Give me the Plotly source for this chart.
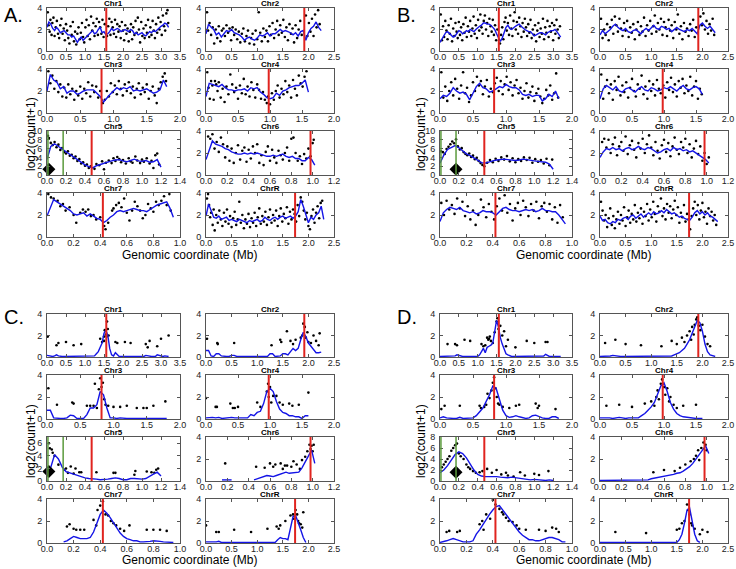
import plotly.graph_objects as go

# ---------------- data ----------------
CHROMS = ["Chr1", "Chr2", "Chr3", "Chr4", "Chr5", "Chr6", "Chr7", "ChrR"]
XMAX = [3.5, 2.5, 2.0, 2.0, 1.4, 1.2, 1.0, 2.5]
XDTICK = [0.5, 0.5, 0.5, 0.5, 0.2, 0.2, 0.2, 0.5]
CENTROMERE = [1.56, 1.92, 0.82, 0.98, 0.47, 0.98, 0.42, 1.74]
PANELS = ["A", "B", "C", "D"]
CHR5_YMAX = [10, 10, 7, 8]
GREEN_CHR5 = [0.01, 0.17]
DIAMOND_X = [0.02, 0.17, 0.02, 0.17]
DIAMOND_Y = [1.3, 1.3, 1.5, 1.6]

X_CHR1 = [0.0, 0.05, 0.1, 0.15, 0.2, 0.25, 0.3, 0.35, 0.4, 0.45,
          0.5, 0.55, 0.6, 0.65, 0.7, 0.75, 0.8, 0.85, 0.9, 0.95,
          1.0, 1.05, 1.1, 1.15, 1.2, 1.25, 1.3, 1.35, 1.4, 1.45,
          1.5, 1.55, 1.6, 1.65, 1.7, 1.75, 1.8, 1.85, 1.9, 1.95,
          2.0, 2.05, 2.1, 2.15, 2.2, 2.25, 2.3, 2.35, 2.4, 2.45,
          2.5, 2.55, 2.6, 2.65, 2.7, 2.75, 2.8, 2.85, 2.9, 2.95,
          3.0, 3.05, 3.1, 3.15, 3.2]
X_CHR2 = X_CHR1[:46]
X_CHR3 = X_CHR1[:37]
X_CHR4 = X_CHR1[:33]
X_CHRR = X_CHR1[:47]
X_CHR5 = [0.0, 0.04, 0.08, 0.12, 0.16, 0.2, 0.24, 0.28, 0.32, 0.36,
          0.4, 0.44, 0.48, 0.52, 0.56, 0.6, 0.64, 0.68, 0.72, 0.76,
          0.8, 0.84, 0.88, 0.92, 0.96, 1.0, 1.04, 1.08, 1.12, 1.16,
          1.2]
X_CHR6 = [0.0, 0.03, 0.06, 0.09, 0.12, 0.15, 0.18, 0.21, 0.24, 0.27,
          0.3, 0.33, 0.36, 0.39, 0.42, 0.45, 0.48, 0.51, 0.54, 0.57,
          0.6, 0.63, 0.66, 0.69, 0.72, 0.75, 0.78, 0.81, 0.84, 0.87,
          0.9, 0.93, 0.96, 0.99, 1.02]
X_CHR7 = [0.0, 0.025, 0.05, 0.075, 0.1, 0.125, 0.15, 0.175, 0.2, 0.225,
          0.25, 0.275, 0.3, 0.325, 0.35, 0.375, 0.4, 0.425, 0.45, 0.475,
          0.5, 0.525, 0.55, 0.575, 0.6, 0.625, 0.65, 0.675, 0.7, 0.725,
          0.75, 0.775, 0.8, 0.825, 0.85, 0.875, 0.9, 0.925, 0.95]

# smoothed (blue) lines
LINE_A_CHR1 = [2.2, 2.7, 2.5, 2.1, 1.9, 2.2, 2.0, 1.7, 1.8, 1.9,
               1.7, 1.5, 1.5, 1.3, 1.4, 1.1, 0.8, 1.1, 1.3, 1.0,
               1.2, 1.4, 1.6, 1.8, 1.9, 1.6, 1.7, 2.0, 2.2, 1.7,
               1.8, 1.5, 1.6, 1.8, 2.1, 1.9, 2.0, 2.1, 2.0, 1.8,
               1.9, 2.0, 1.9, 1.8, 2.0, 1.9, 1.6, 1.7, 1.5, 1.6,
               1.7, 1.5, 1.4, 1.6, 1.8, 1.7, 1.9, 1.8, 2.0, 2.2,
               2.3, 2.4, 2.6, 2.5, 2.2]
LINE_B_CHR1 = [0.8, 1.1, 1.4, 1.7, 1.8, 1.6, 1.5, 1.3, 1.4, 1.6,
               1.9, 1.8, 1.6, 1.7, 1.9, 1.8, 2.0, 1.9, 1.8, 2.0,
               2.2, 2.3, 2.4, 2.6, 2.6, 2.5, 2.5, 2.4, 2.2, 2.0,
               1.6, 1.3, 0.9, 1.2, 1.8, 2.2, 2.4, 2.1, 2.0, 2.2,
               2.3, 2.4, 2.5, 2.3, 2.1, 2.0, 1.9, 1.8, 1.8, 1.6,
               1.4, 1.5, 1.6, 1.7, 1.7, 1.6, 1.5, 1.7, 1.8, 1.9,
               1.9, 2.0, 1.8, 1.6, 1.3]
LINE_C_CHR1 = [0.15, 0.1, 0.05, 0.05, 0.1, 0.2, 0.1, 0.05, 0.05, 0.05,
               0.05, 0.05, 0.05, 0.1, 0.05, 0.05, 0.05, 0.05, 0.05, 0.1,
               0.05, 0.05, 0.05, 0.05, 0.05, 0.1, 0.3, 0.5, 0.9, 1.3,
               2.2, 2.5, 2.0, 0.8, 0.2, 0.1, 0.4, 0.2, 0.05, 0.05,
               0.05, 0.05, 0.05, 0.05, 0.05, 0.05, 0.05, 0.05, 0.05, 0.05,
               0.05, 0.05, 0.15, 0.1, 0.05, 0.05, 0.05, 0.05, 0.2, 0.15,
               0.05, 0.05, 0.1, 0.05, 0.05]
LINE_D_CHR1 = [0.05, 0.05, 0.05, 0.05, 0.05, 0.1, 0.05, 0.05, 0.1, 0.2,
               0.15, 0.05, 0.05, 0.05, 0.05, 0.05, 0.05, 0.05, 0.05, 0.05,
               0.05, 0.2, 0.5, 0.8, 0.4, 0.9, 1.0, 1.1, 1.3, 2.2,
               3.4, 2.8, 1.8, 1.2, 0.8, 0.3, 0.2, 0.1, 0.05, 0.05,
               0.05, 0.05, 0.05, 0.05, 0.05, 0.05, 0.05, 0.05, 0.05, 0.05,
               0.05, 0.05, 0.05, 0.05, 0.05, 0.1, 0.25, 0.15, 0.05, 0.05,
               0.05, 0.05, 0.05, 0.05, 0.05]

LINE_A_CHR2 = [1.6, 2.5, 2.2, 2.0, 1.5, 1.7, 1.3, 1.6, 1.9, 1.8,
               2.0, 1.7, 1.6, 1.5, 1.3, 1.0, 1.2, 1.3, 1.1, 1.0,
               1.2, 1.5, 1.4, 1.5, 1.7, 1.4, 1.6, 1.6, 1.8, 2.0,
               1.8, 1.9, 1.8, 1.7, 1.5, 1.7, 1.4, 1.8, 1.9, 1.0,
               1.7, 2.1, 2.3, 2.7, 2.2, 1.9]
LINE_B_CHR2 = [1.5, 1.9, 1.6, 1.8, 2.0, 2.3, 2.5, 2.2, 2.0, 1.9,
               2.1, 1.8, 1.7, 1.9, 2.0, 1.8, 1.6, 1.9, 2.1, 1.9,
               2.2, 2.4, 2.1, 2.0, 2.3, 2.2, 2.0, 2.1, 1.8, 2.0,
               2.2, 2.0, 1.9, 1.8, 2.0, 1.9, 2.1, 1.8, 1.6, 2.4,
               2.6, 2.3, 2.1, 2.3, 2.0, 1.7]
LINE_C_CHR2 = [0.6, 0.6, 0.1, 0.05, 0.3, 0.3, 0.1, 0.05, 0.05, 0.05,
               0.15, 0.15, 0.05, 0.05, 0.05, 0.05, 0.05, 0.05, 0.05, 0.05,
               0.05, 0.05, 0.05, 0.05, 0.05, 0.3, 0.3, 0.05, 0.05, 0.1,
               0.3, 0.3, 0.2, 0.5, 0.8, 0.6, 0.8, 1.6, 2.3, 1.9,
               1.3, 1.0, 0.7, 0.4, 0.4, 0.45]
LINE_D_CHR2 = [0.05, 0.05, 0.05, 0.05, 0.1, 0.15, 0.1, 0.05, 0.05, 0.05,
               0.05, 0.1, 0.05, 0.05, 0.05, 0.05, 0.05, 0.05, 0.05, 0.05,
               0.05, 0.05, 0.05, 0.05, 0.05, 0.05, 0.05, 0.1, 0.1, 0.2,
               0.3, 0.4, 0.6, 0.8, 1.2, 1.6, 2.2, 2.8, 3.4, 3.2,
               2.4, 1.2, 0.5, 0.2, 0.1, 0.05]

LINE_A_CHR3 = [2.0, 3.5, 3.0, 2.8, 2.2, 2.4, 1.8, 2.0, 2.0, 1.7,
               1.8, 2.0, 2.1, 2.1, 2.1, 1.8, 1.5, 1.0, 1.4, 1.7,
               2.0, 2.3, 2.1, 2.3, 2.2, 2.4, 2.0, 2.1, 2.0, 2.1,
               2.2, 2.0, 1.8, 1.9, 2.1, 3.0, 2.4]
LINE_B_CHR3 = [1.3, 1.6, 1.5, 1.8, 2.3, 2.0, 1.8, 1.9, 1.7, 1.2,
               1.8, 2.4, 2.7, 2.3, 2.2, 1.9, 2.0, 2.2, 2.4, 2.3,
               2.6, 2.4, 2.3, 2.3, 2.1, 1.7, 1.6, 1.7, 1.5, 1.6,
               1.6, 1.1, 1.3, 1.7, 1.5, 2.0, 1.3]
LINE_C_CHR3 = [0.8, 0.8, 0.1, 0.05, 0.05, 0.05, 0.1, 0.35, 0.3, 0.05,
               0.05, 0.05, 0.4, 1.0, 1.0, 1.3, 2.5, 2.2, 1.0, 0.1,
               0.1, 0.05, 0.1, 0.05, 0.05, 0.05, 0.05, 0.05, 0.05, 0.1,
               0.05, 0.1, 0.05, 0.1, 0.1, 0.05, 0.05]
LINE_D_CHR3 = [0.1, 0.2, 0.1, 0.05, 0.05, 0.05, 0.15, 0.05, 0.05, 0.05,
               0.1, 0.3, 0.7, 1.0, 1.6, 2.2, 3.0, 2.8, 1.8, 0.8,
               0.3, 0.15, 0.2, 0.3, 0.2, 0.1, 0.05, 0.1, 0.3, 0.35,
               0.2, 0.1, 0.05, 0.05, 0.2, 0.2, 0.05]

LINE_A_CHR4 = [1.5, 2.7, 2.6, 2.5, 2.4, 2.6, 2.3, 2.1, 2.1, 2.0,
               2.1, 2.1, 2.2, 2.0, 2.3, 2.2, 2.3, 1.9, 1.7, 1.4,
               1.3, 1.4, 1.8, 1.6, 2.0, 2.1, 2.3, 2.4, 2.5, 2.5,
               2.7, 3.0, 1.9]
LINE_B_CHR4 = [1.3, 2.2, 2.5, 2.3, 2.1, 2.4, 2.0, 1.9, 2.2, 2.3,
               2.1, 1.9, 2.2, 2.4, 2.1, 2.0, 2.3, 2.2, 2.0, 2.1,
               2.3, 2.2, 2.4, 2.2, 2.0, 2.3, 2.5, 2.2, 2.1, 2.3,
               2.4, 2.2, 1.7]
LINE_C_CHR4 = [0.1, 0.15, 0.15, 0.1, 0.15, 0.05, 0.1, 0.15, 0.15, 0.1,
               0.1, 0.05, 0.1, 0.1, 0.4, 0.3, 0.6, 0.7, 1.4, 2.5,
               2.8, 2.5, 1.6, 0.9, 0.6, 0.5, 0.3, 0.3, 0.2, 0.2,
               0.05, 0.3, 0.3]
LINE_D_CHR4 = [0.1, 0.1, 0.15, 0.1, 0.05, 0.1, 0.15, 0.1, 0.05, 0.1,
               0.1, 0.05, 0.1, 0.3, 0.5, 0.8, 1.1, 1.5, 2.2, 3.0,
               3.3, 2.5, 1.5, 0.9, 0.5, 0.3, 0.2, 0.15, 0.1, 0.05,
               0.05, 0.05, 0.05]

LINE_A_CHR5 = [3.5, 6.5, 7.1, 6.5, 5.8, 5.2, 4.7, 4.0, 3.5, 3.0,
               2.3, 1.9, 1.6, 2.1, 2.4, 2.6, 2.9, 3.2, 3.4, 3.5,
               3.2, 3.0, 3.3, 3.6, 3.2, 3.1, 3.3, 2.9, 3.0, 3.5,
               1.8]
LINE_B_CHR5 = [2.7, 4.5, 5.8, 6.3, 6.7, 6.2, 5.4, 4.8, 4.4, 3.9,
               3.4, 2.8, 2.7, 3.0, 3.2, 3.4, 3.5, 3.6, 3.5, 3.4,
               3.3, 3.4, 3.6, 3.5, 3.3, 3.2, 3.1, 3.0, 2.9, 2.5,
               1.3]
LINE_C_CHR5 = [0.8, 2.2, 4.2, 3.5, 2.2, 1.5, 1.3, 1.1, 0.8, 0.6,
               0.5, 0.4, 0.4, 0.3, 0.2, 0.2, 0.3, 0.4, 0.5, 0.4,
               0.2, 0.2, 0.4, 0.4, 0.3, 0.3, 0.4, 0.8, 1.1, 1.4,
               0.8]
LINE_D_CHR5 = [1.5, 2.0, 2.8, 3.8, 4.8, 5.3, 5.0, 4.2, 3.0, 2.0,
               1.2, 0.9, 0.8, 0.8, 0.9, 0.8, 0.7, 0.6, 0.6, 0.7,
               0.6, 0.4, 0.3, 0.2, 0.2, 0.3, 0.2, 0.1, 0.1, 0.2,
               0.1]

LINE_A_CHR6 = [1.4, 2.2, 3.1, 2.8, 2.7, 2.6, 2.4, 2.3, 2.1, 2.0,
               1.9, 1.9, 2.0, 1.9, 2.0, 1.9, 2.0, 1.9, 1.8, 1.7,
               1.7, 1.8, 1.7, 1.8, 1.9, 1.7, 1.6, 1.7, 1.5, 1.5,
               1.3, 1.3, 1.6, 1.4, 0.9]
LINE_B_CHR6 = [1.6, 2.1, 2.4, 2.3, 2.5, 2.3, 2.4, 2.2, 2.4, 2.5,
               2.3, 2.4, 2.6, 2.4, 2.3, 2.5, 2.4, 2.2, 2.0, 2.1,
               2.3, 2.4, 2.2, 2.5, 2.3, 2.4, 2.2, 2.3, 2.1, 2.2,
               2.0, 1.8, 1.6, 1.4, 1.1]
LINE_C_CHR6 = [None, None, None, None, None, 0.1, 0.1, 0.1, 0.1, None,
               None, None, None, None, None, 0.1, 0.2, 0.3, 0.4, 0.5,
               0.45, 0.4, 0.5, 0.6, 0.7, 0.8, 0.7, 0.75, 0.8, 0.8,
               1.2, 1.7, 2.3, 2.8, 1.6]
LINE_D_CHR6 = [0.05, 0.05, 0.1, 0.1, 0.05, 0.05, 0.05, 0.05, 0.05, 0.05,
               0.05, 0.05, 0.05, 0.05, 0.05, 0.1, 0.2, 0.25, 0.3, 0.4,
               0.45, 0.5, 0.55, 0.6, 0.7, 0.75, 0.9, 1.1, 1.3, 1.6,
               2.0, 2.5, 2.9, 3.2, 2.5]

LINE_A_CHR7 = [1.9, 2.6, 3.4, 3.2, 3.0, 2.8, 2.6, 2.4, 2.1, 2.0,
               2.1, 2.2, 1.9, 2.1, 1.9, 1.7, 1.6, 1.3, 1.5, 1.8,
               2.0, 2.3, 2.4, 2.3, 2.4, 2.5, 2.6, 2.5, 2.4, 2.4,
               2.3, 2.5, 2.7, 2.9, 3.0, 3.1, 3.2, 2.6, 1.8]
LINE_B_CHR7 = [1.4, 2.2, 2.5, 2.7, 2.6, 2.5, 2.7, 2.4, 2.3, 2.2,
               2.3, 2.1, 2.2, 2.4, 2.3, 2.3, 2.2, 2.0, 2.3, 2.6,
               2.7, 2.5, 2.4, 2.4, 2.3, 2.4, 2.5, 2.4, 2.5, 2.3,
               2.4, 2.6, 2.4, 2.4, 2.3, 2.3, 2.0, 1.6, 1.2]
LINE_C_CHR7 = [None, None, None, None, None, 0.1, 0.2, 0.4, 0.6, 0.5,
               0.4, 0.4, 0.4, 0.5, 1.0, 1.8, 2.6, 3.0, 2.7, 2.3,
               1.8, 1.3, 0.9, 0.6, 0.4, 0.3, 0.2, 0.2, 0.1, 0.1,
               0.1, 0.15, 0.2, 0.2, 0.15, 0.1, 0.1, 0.05, 0.05]
LINE_D_CHR7 = [0.05, 0.1, 0.2, 0.3, 0.4, 0.3, 0.2, 0.1, 0.1, 0.1,
               0.2, 0.8, 1.2, 1.7, 2.2, 2.6, 3.0, 3.3, 3.4, 3.0,
               2.6, 2.1, 1.7, 1.3, 1.0, 0.7, 0.5, 0.3, 0.3, 0.2,
               0.2, 0.3, 0.4, 0.5, 0.5, 0.4, 0.3, 0.1, 0.1]

LINE_A_CHRR = [1.9, 3.0, 2.4, 1.8, 1.7, 1.9, 1.6, 1.7, 1.8, 1.5,
               1.6, 1.5, 1.4, 1.6, 1.5, 1.4, 1.3, 1.5, 1.4, 1.5,
               1.6, 1.4, 1.5, 1.8, 1.6, 1.5, 1.7, 1.8, 1.6, 1.8,
               1.9, 1.7, 1.8, 1.9, 1.7, 1.9, 2.3, 3.4, 2.8, 2.0,
               1.3, 1.8, 1.6, 2.0, 2.2, 2.8, 1.6]
LINE_B_CHRR = [1.9, 1.5, 1.6, 1.3, 1.2, 1.4, 1.3, 1.6, 1.5, 1.7,
               1.8, 1.6, 1.9, 2.0, 1.7, 1.9, 2.1, 1.8, 2.0, 2.2,
               2.0, 2.3, 2.1, 2.2, 2.4, 2.2, 2.5, 2.3, 2.1, 2.2,
               2.0, 1.8, 1.9, 1.7, 1.6, 1.5, 1.8, 2.2, 2.4, 2.1,
               2.3, 2.0, 2.2, 1.9, 1.8, 1.6, 1.4]
LINE_C_CHRR = [0.1, 0.1, 0.05, 0.05, 0.1, 0.15, 0.05, 0.05, 0.05, 0.05,
               0.05, 0.05, 0.05, 0.05, 0.05, 0.05, 0.05, 0.05, 0.05, 0.05,
               0.05, 0.05, 0.05, 0.05, 0.05, 0.05, 0.05, 0.05, 0.3, 0.5,
               0.4, 0.4, 0.3, 1.5, 2.4, 2.5, 1.9, 1.2, 0.5, 0.05,
               None, None, None, None, None, None, None]
LINE_D_CHRR = [0.05, 0.05, 0.05, 0.05, 0.05, 0.05, 0.05, 0.05, 0.05, 0.05,
               0.05, 0.05, 0.05, 0.05, 0.05, 0.05, 0.05, 0.05, 0.05, 0.05,
               0.05, 0.05, 0.05, 0.05, 0.05, 0.05, 0.05, 0.05, 0.05, 0.05,
               0.05, 0.3, 0.8, 1.8, 3.0, 3.2, 2.0, 0.8, 0.2, 0.05,
               None, None, None, None, None, None, None]

# raw per-bin values (black dots), (Mb, log2(count+1))
PTS_A_CHR1 = [(0.02,3.6),(0.04,2.4),(0.07,1.8),(0.09,2.9),(0.12,1.5),(0.14,2.6),(0.17,3.1),(0.2,1.4),(0.23,2.2),(0.26,2.8),
              (0.29,1.6),(0.32,1.2),(0.35,2.4),(0.38,3.0),(0.41,1.6),(0.44,2.1),(0.47,1.0),(0.5,2.5),(0.53,1.9),(0.56,1.2),
              (0.59,0.7),(0.62,2.3),(0.65,1.5),(0.68,2.7),(0.71,0.9),(0.74,1.8),(0.77,0.6),(0.8,1.6),(0.83,2.2),(0.86,1.1),
              (0.89,1.7),(0.92,2.6),(0.95,1.3),(0.98,0.8),(1.01,2.2),(1.04,2.9),(1.07,1.4),(1.1,2.4),(1.13,1.1),(1.16,3.2),
              (1.19,1.9),(1.22,2.6),(1.25,1.4),(1.28,2.3),(1.31,3.0),(1.34,1.5),(1.37,2.7),(1.4,2.2),(1.43,1.6),(1.46,2.9),
              (1.49,1.3),(1.52,2.5),(1.58,1.4),(1.61,2.3),(1.64,3.0),(1.67,1.5),(1.7,2.7),(1.73,2.2),(1.76,1.6),(1.79,2.9),
              (1.82,1.3),(1.85,2.5),(1.88,1.8),(1.91,2.3),(1.94,1.2),(1.97,2.7),(2.0,1.9),(2.03,1.0),(2.06,2.4),(2.09,1.6),
              (2.12,2.1),(2.15,0.9),(2.18,1.8),(2.21,2.5),(2.24,1.1),(2.27,2.2),(2.3,1.5),(2.33,2.8),(2.36,1.7),(2.39,3.1),
              (2.42,2.0),(2.45,0.8),(2.48,2.7),(2.51,1.4),(2.54,2.1),(2.57,1.2),(2.6,2.4),(2.63,1.7),(2.66,2.9),(2.69,1.3),
              (2.72,2.2),(2.75,1.5),(2.78,2.8),(2.81,1.9),(2.84,1.2),(2.87,2.5),(2.9,1.7),(2.93,3.1),(2.96,2.0),(2.99,2.7),
              (3.02,1.5),(3.05,3.3),(3.08,2.3),(3.11,1.9),(3.14,3.5),(3.17,3.8),(3.19,2.6)]
PTS_A_CHR2 = [(0.02,3.6),(0.04,1.9),(0.07,2.6),(0.1,1.5),(0.13,2.2),(0.16,0.7),(0.19,2.0),(0.22,1.2),(0.25,2.3),(0.28,0.9),
              (0.31,1.9),(0.34,2.1),(0.37,1.4),(0.4,2.4),(0.43,1.7),(0.46,2.1),(0.49,1.0),(0.52,2.2),(0.55,1.5),(0.58,2.0),
              (0.61,1.1),(0.64,1.8),(0.67,0.8),(0.7,1.6),(0.73,2.1),(0.76,0.9),(0.79,1.4),(0.82,1.9),(0.85,0.7),(0.88,1.2),
              (0.91,1.6),(0.94,0.6),(0.97,1.9),(1.0,1.1),(1.03,3.6),(1.06,1.7),(1.09,0.9),(1.12,2.1),(1.15,1.3),(1.18,1.9),
              (1.21,0.9),(1.24,2.3),(1.27,1.5),(1.3,2.6),(1.33,1.2),(1.36,2.0),(1.39,2.8),(1.42,1.5),(1.45,2.4),(1.48,1.7),
              (1.51,2.9),(1.54,1.3),(1.57,2.2),(1.6,1.0),(1.63,2.5),(1.66,1.6),(1.69,2.1),(1.72,0.8),(1.75,2.4),(1.78,1.2),
              (1.81,2.0),(1.84,2.8),(1.87,1.5),(1.95,3.3),(1.98,1.4),(2.01,2.6),(2.04,1.8),(2.07,3.0),(2.1,1.4),(2.13,3.4),
              (2.16,2.2),(2.19,3.8),(2.22,2.5)]
PTS_A_CHR3 = [(0.02,3.8),(0.05,2.7),(0.08,3.4),(0.11,2.2),(0.14,2.9),(0.17,1.9),(0.2,2.6),(0.23,1.5),(0.26,2.3),(0.29,1.4),
              (0.32,2.6),(0.35,1.7),(0.38,2.2),(0.41,1.2),(0.44,2.0),(0.47,1.6),(0.5,2.4),(0.53,1.3),(0.56,2.2),(0.59,1.8),
              (0.62,2.8),(0.65,1.5),(0.68,2.5),(0.71,1.9),(0.74,2.4),(0.77,1.4),(0.8,2.0),(0.84,0.9),(0.87,1.2),(0.9,2.0),
              (0.93,1.5),(0.96,2.7),(0.99,1.9),(1.02,2.5),(1.05,1.7),(1.08,2.9),(1.11,2.2),(1.14,1.6),(1.17,2.6),(1.2,2.0),
              (1.23,2.8),(1.26,1.8),(1.29,2.4),(1.32,1.4),(1.35,2.2),(1.38,2.7),(1.41,1.7),(1.44,2.3),(1.47,1.9),(1.5,2.6),
              (1.53,1.3),(1.56,2.0),(1.59,2.4),(1.62,1.6),(1.65,0.9),(1.68,2.2),(1.71,2.8),(1.74,3.3),(1.77,3.6),(1.79,2.9)]
PTS_A_CHR4 = [(0.02,3.7),(0.04,2.3),(0.06,1.3),(0.08,2.9),(0.1,2.5),(0.12,1.2),(0.14,2.9),(0.16,2.6),(0.18,2.0),(0.2,2.8),
              (0.23,1.4),(0.26,2.2),(0.29,1.0),(0.32,2.4),(0.35,1.7),(0.38,3.5),(0.41,2.6),(0.44,1.9),(0.47,2.3),(0.5,1.3),
              (0.53,2.5),(0.56,1.8),(0.59,3.1),(0.62,1.7),(0.65,2.4),(0.68,1.5),(0.71,2.8),(0.74,2.1),(0.77,1.4),(0.8,2.6),
              (0.83,2.1),(0.86,1.3),(0.89,1.9),(0.92,1.2),(0.95,0.9),(0.97,1.5),(1.0,0.8),(1.03,1.8),(1.06,1.2),(1.09,2.0),
              (1.12,2.5),(1.15,1.4),(1.18,2.2),(1.21,1.7),(1.24,2.9),(1.27,1.9),(1.3,2.5),(1.33,1.4),(1.36,3.0),(1.39,2.2),
              (1.42,1.6),(1.45,3.4),(1.48,2.7),(1.51,2.4),(1.54,3.3),(1.57,3.8)]
PTS_A_CHR5 = [(0.01,8.9),(0.02,8.4),(0.04,7.3),(0.06,6.8),(0.08,7.5),(0.1,6.3),(0.12,6.9),(0.14,5.7),(0.16,6.1),(0.18,5.2),
              (0.2,4.9),(0.22,5.4),(0.24,4.4),(0.26,4.6),(0.28,3.8),(0.3,4.2),(0.32,3.2),(0.34,3.6),(0.36,2.6),(0.38,2.9),
              (0.4,2.1),(0.42,2.4),(0.44,1.6),(0.46,2.0),(0.5,1.4),(0.52,2.5),(0.55,2.2),(0.58,3.1),(0.6,1.3),(0.62,2.8),
              (0.65,3.3),(0.68,2.7),(0.7,3.8),(0.72,3.2),(0.74,4.1),(0.76,3.6),(0.78,2.9),(0.8,3.4),(0.83,2.6),(0.86,3.8),
              (0.88,3.1),(0.9,2.8),(0.93,4.2),(0.95,3.3),(0.98,2.7),(1.0,3.5),(1.02,3.0),(1.05,3.8),(1.08,2.6),(1.1,3.2),
              (1.12,1.6),(1.14,4.5),(1.16,4.9),(1.18,2.4)]
PTS_A_CHR6 = [(0.02,3.5),(0.04,3.3),(0.06,3.7),(0.08,2.4),(0.1,3.0),(0.12,2.1),(0.14,3.4),(0.16,2.8),(0.18,1.6),(0.2,2.6),
              (0.22,1.3),(0.24,2.4),(0.26,1.1),(0.28,2.0),(0.3,2.7),(0.32,1.4),(0.34,2.2),(0.36,2.5),(0.38,1.2),(0.4,2.3),
              (0.42,1.5),(0.44,2.6),(0.46,2.0),(0.48,2.8),(0.5,1.1),(0.52,1.8),(0.54,0.9),(0.56,2.1),(0.58,2.6),(0.6,1.3),
              (0.62,2.3),(0.64,1.6),(0.66,1.1),(0.68,2.2),(0.7,1.8),(0.72,1.4),(0.74,2.0),(0.76,2.5),(0.78,1.3),(0.8,3.3),
              (0.82,3.4),(0.84,2.0),(0.86,1.3),(0.88,1.7),(0.9,1.0),(0.92,1.9),(0.94,1.5),(0.96,2.4),(0.98,1.7),(1.0,2.9),
              (1.01,3.2)]
PTS_A_CHR7 = [(0.01,3.9),(0.03,3.6),(0.05,3.5),(0.08,3.3),(0.1,2.8),(0.12,3.0),(0.14,2.4),(0.17,2.7),(0.2,2.0),(0.22,1.3),
              (0.25,2.2),(0.27,2.5),(0.29,2.3),(0.31,2.5),(0.33,1.9),(0.35,2.0),(0.37,1.6),(0.4,1.8),(0.43,1.0),(0.44,0.7),
              (0.46,1.3),(0.49,2.4),(0.5,2.6),(0.52,2.9),(0.54,3.1),(0.56,2.7),(0.58,3.5),(0.6,2.2),(0.62,1.5),(0.64,2.4),
              (0.66,3.2),(0.68,2.8),(0.7,2.4),(0.72,1.7),(0.74,2.0),(0.76,3.0),(0.78,2.6),(0.8,2.3),(0.82,3.2),(0.84,2.9),
              (0.86,3.3),(0.88,3.7),(0.9,2.9),(0.92,3.9),(0.93,2.4)]
PTS_A_CHRR = [(0.02,3.5),(0.04,3.9),(0.06,2.9),(0.08,1.8),(0.1,2.2),(0.13,1.1),(0.15,2.5),(0.17,0.6),(0.2,2.0),(0.23,1.3),
              (0.26,2.4),(0.29,1.6),(0.32,1.0),(0.35,2.2),(0.38,1.4),(0.41,2.5),(0.44,1.2),(0.47,1.9),(0.5,0.9),(0.53,1.7),
              (0.56,2.3),(0.59,1.1),(0.62,1.6),(0.65,3.2),(0.68,1.3),(0.71,2.0),(0.74,0.8),(0.77,1.6),(0.8,1.2),(0.83,2.1),
              (0.86,0.9),(0.89,1.7),(0.92,1.3),(0.95,2.2),(0.98,1.0),(1.01,1.8),(1.04,2.6),(1.07,1.2),(1.1,1.9),(1.13,1.4),
              (1.16,2.3),(1.19,1.1),(1.22,1.8),(1.25,2.5),(1.28,1.3),(1.31,2.0),(1.34,1.5),(1.37,2.4),(1.4,1.0),(1.43,1.9),
              (1.46,2.6),(1.49,1.4),(1.52,2.1),(1.55,1.7),(1.58,2.7),(1.61,1.2),(1.64,2.3),(1.67,1.6),(1.7,2.5),(1.73,2.1),
              (1.76,1.4),(1.79,2.9),(1.82,1.9),(1.85,3.6),(1.88,3.2),(1.91,2.4),(1.94,1.6),(1.97,2.2),(2.0,1.0),(2.03,0.7),
              (2.06,1.9),(2.09,2.5),(2.12,1.3),(2.15,2.2),(2.18,2.8),(2.21,1.7),(2.24,3.1),(2.27,3.3)]

PTS_B_CHR1 = [(0.02,3.4),(0.05,1.0),(0.08,2.3),(0.11,1.3),(0.14,2.8),(0.17,1.9),(0.2,1.1),(0.23,2.4),(0.26,1.6),(0.29,3.0),
              (0.32,0.9),(0.35,2.1),(0.38,1.4),(0.41,2.6),(0.44,1.8),(0.47,1.2),(0.5,2.7),(0.53,1.5),(0.56,2.2),(0.59,1.0),
              (0.62,2.5),(0.65,1.7),(0.68,3.1),(0.71,1.3),(0.74,2.3),(0.77,1.8),(0.8,2.8),(0.83,1.4),(0.86,2.1),(0.89,3.2),
              (0.92,1.6),(0.95,2.4),(0.98,1.2),(1.01,2.9),(1.04,1.9),(1.07,3.4),(1.1,2.2),(1.13,1.6),(1.16,2.8),(1.19,3.3),
              (1.22,2.0),(1.25,2.6),(1.28,1.4),(1.31,3.0),(1.34,2.3),(1.37,1.8),(1.4,2.9),(1.43,1.5),(1.46,2.4),(1.49,1.0),
              (1.52,2.0),(1.59,0.7),(1.62,1.5),(1.65,2.2),(1.68,1.1),(1.71,2.7),(1.74,3.1),(1.77,1.9),(1.8,2.6),(1.83,1.5),
              (1.86,3.3),(1.89,2.1),(1.92,1.4),(1.95,2.8),(1.98,3.6),(2.01,2.0),(2.04,2.7),(2.07,1.6),(2.1,3.1),(2.13,2.3),
              (2.16,1.3),(2.19,2.6),(2.22,1.8),(2.25,3.0),(2.28,2.2),(2.31,1.4),(2.34,2.5),(2.37,1.7),(2.4,2.9),(2.43,1.2),
              (2.46,2.0),(2.49,1.5),(2.52,2.4),(2.55,0.9),(2.58,1.9),(2.61,2.6),(2.64,1.3),(2.67,2.1),(2.7,1.6),(2.73,3.0),
              (2.76,1.1),(2.79,2.2),(2.82,1.7),(2.85,2.8),(2.88,1.3),(2.91,2.3),(2.94,1.8),(2.97,2.6),(3.0,1.0),(3.03,2.4),
              (3.06,1.6),(3.09,2.9),(3.12,2.0),(3.15,1.2),(3.18,2.3)]
PTS_B_CHR2 = [(0.02,3.0),(0.05,1.2),(0.08,2.0),(0.11,1.5),(0.14,2.5),(0.17,1.0),(0.2,2.2),(0.23,2.9),(0.26,1.6),(0.29,3.2),
              (0.32,2.4),(0.35,1.8),(0.38,3.0),(0.41,2.1),(0.44,1.4),(0.47,2.6),(0.5,1.9),(0.53,2.8),(0.56,1.3),(0.59,2.2),
              (0.62,1.7),(0.65,2.5),(0.68,1.1),(0.71,2.0),(0.74,2.7),(0.77,1.5),(0.8,2.3),(0.83,1.8),(0.86,3.1),(0.89,1.4),
              (0.92,2.4),(0.95,1.9),(0.98,2.8),(1.01,1.6),(1.04,2.3),(1.07,3.3),(1.1,1.8),(1.13,2.6),(1.16,2.0),(1.19,3.0),
              (1.22,1.5),(1.25,2.7),(1.28,2.2),(1.31,1.4),(1.34,2.9),(1.37,1.9),(1.4,2.4),(1.43,1.2),(1.46,2.7),(1.49,2.0),
              (1.52,3.4),(1.55,1.6),(1.58,2.3),(1.61,1.1),(1.64,2.6),(1.67,1.8),(1.7,2.1),(1.73,1.4),(1.76,2.5),(1.79,1.9),
              (1.82,2.9),(1.85,1.3),(1.88,2.2),(1.96,3.2),(1.99,2.4),(2.02,3.5),(2.05,2.0),(2.08,2.8),(2.11,1.6),(2.14,2.5),
              (2.17,1.9),(2.2,3.0),(2.23,1.5)]
PTS_B_CHR3 = [(0.02,3.7),(0.05,1.4),(0.08,2.4),(0.11,1.1),(0.14,2.0),(0.17,2.8),(0.2,1.6),(0.23,3.1),(0.26,2.2),(0.29,1.3),
              (0.32,2.5),(0.35,3.7),(0.38,1.8),(0.41,2.3),(0.44,1.0),(0.47,1.6),(0.5,2.8),(0.53,2.0),(0.56,3.3),(0.59,2.5),
              (0.62,2.9),(0.65,1.7),(0.68,2.4),(0.71,3.0),(0.74,1.5),(0.77,2.2),(0.8,1.9),(0.83,2.7),(0.86,3.2),(0.89,2.0),
              (0.92,2.9),(0.95,1.7),(0.98,2.6),(1.01,3.3),(1.04,2.1),(1.07,2.8),(1.1,1.6),(1.13,2.5),(1.16,3.0),(1.19,1.8),
              (1.22,2.3),(1.25,1.3),(1.28,2.0),(1.31,2.7),(1.34,1.4),(1.37,1.9),(1.4,2.4),(1.43,1.1),(1.46,1.8),(1.49,2.2),
              (1.52,1.5),(1.55,0.9),(1.58,1.3),(1.61,2.1),(1.64,1.6),(1.67,2.5),(1.7,1.2),(1.73,1.8),(1.76,3.6),(1.79,1.4)]
PTS_B_CHR4 = [(0.02,3.5),(0.05,1.3),(0.08,2.4),(0.11,3.0),(0.14,1.8),(0.17,2.6),(0.2,1.2),(0.23,2.9),(0.26,2.1),(0.29,3.3),
              (0.32,1.6),(0.35,2.5),(0.38,1.9),(0.41,2.8),(0.44,1.4),(0.47,2.3),(0.5,3.1),(0.53,2.0),(0.56,1.5),(0.59,2.6),
              (0.62,2.2),(0.65,3.4),(0.68,1.7),(0.71,2.4),(0.74,1.3),(0.77,2.9),(0.8,2.0),(0.83,2.6),(0.86,1.6),(0.89,3.0),
              (0.92,2.2),(0.95,1.8),(0.99,2.5),(1.02,1.4),(1.05,2.8),(1.08,2.1),(1.11,3.2),(1.14,1.9),(1.17,2.6),(1.2,1.5),
              (1.23,2.9),(1.26,2.3),(1.29,3.1),(1.32,1.8),(1.35,2.5),(1.38,2.0),(1.41,3.3),(1.44,1.6),(1.47,2.4),(1.5,2.9),
              (1.53,1.3),(1.56,2.2),(1.59,1.7)]
PTS_B_CHR5 = [(0.01,5.4),(0.03,5.2),(0.05,4.8),(0.07,5.9),(0.09,6.4),(0.11,7.0),(0.13,7.6),(0.15,7.2),(0.17,8.1),(0.19,6.5),
              (0.21,5.8),(0.23,6.1),(0.25,5.2),(0.27,4.8),(0.29,4.5),(0.31,4.9),(0.33,4.1),(0.35,4.4),(0.37,3.6),(0.39,3.9),
              (0.41,3.2),(0.43,2.7),(0.45,2.3),(0.47,2.0),(0.5,2.8),(0.53,3.4),(0.56,2.9),(0.59,3.7),(0.62,3.2),(0.65,4.0),
              (0.68,3.5),(0.71,4.3),(0.74,3.1),(0.77,3.8),(0.8,2.9),(0.83,3.6),(0.86,3.2),(0.89,4.0),(0.92,3.4),(0.95,3.9),
              (0.98,2.8),(1.01,3.6),(1.04,3.0),(1.07,3.4),(1.1,2.6),(1.13,3.7),(1.16,2.2),(1.19,3.5)]
PTS_B_CHR6 = [(0.02,3.0),(0.04,3.3),(0.06,2.5),(0.08,3.2),(0.1,2.0),(0.12,2.8),(0.14,3.4),(0.16,1.8),(0.18,2.6),(0.2,3.0),
              (0.22,2.2),(0.24,3.5),(0.26,1.9),(0.28,2.7),(0.3,3.1),(0.32,2.3),(0.34,1.6),(0.36,2.9),(0.38,2.4),(0.4,3.3),
              (0.42,2.0),(0.44,2.8),(0.46,3.6),(0.48,2.5),(0.5,1.8),(0.52,3.0),(0.54,2.2),(0.56,1.5),(0.58,2.7),(0.6,3.2),
              (0.62,2.1),(0.64,2.9),(0.66,1.7),(0.68,2.6),(0.7,3.4),(0.72,2.3),(0.74,1.9),(0.76,3.0),(0.78,2.5),(0.8,3.3),
              (0.82,2.0),(0.84,2.8),(0.86,1.6),(0.88,2.4),(0.9,3.1),(0.92,1.9),(0.94,2.6),(0.96,1.3),(0.98,2.0),(1.0,1.0),
              (1.02,1.6)]
PTS_B_CHR7 = [(0.01,3.1),(0.03,2.0),(0.05,3.3),(0.07,2.5),(0.09,2.9),(0.11,2.1),(0.13,3.5),(0.15,2.6),(0.17,3.2),(0.19,1.9),
              (0.21,2.8),(0.23,1.6),(0.25,2.4),(0.27,1.1),(0.29,2.0),(0.31,3.4),(0.33,2.7),(0.35,1.8),(0.37,3.0),(0.39,2.3),
              (0.41,1.6),(0.43,2.8),(0.45,3.5),(0.47,2.4),(0.49,3.8),(0.51,2.2),(0.53,3.0),(0.55,1.5),(0.57,2.6),(0.59,3.1),
              (0.61,2.0),(0.63,3.3),(0.65,2.7),(0.67,1.9),(0.69,3.0),(0.71,2.4),(0.73,3.2),(0.75,1.7),(0.77,2.8),(0.79,3.1),
              (0.81,2.3),(0.83,3.0),(0.85,1.6),(0.87,2.7),(0.89,1.3),(0.91,2.9),(0.93,1.8)]
PTS_B_CHRR = [(0.02,3.2),(0.05,2.4),(0.08,1.5),(0.11,2.0),(0.14,0.9),(0.17,1.7),(0.2,2.6),(0.23,1.1),(0.26,1.9),(0.29,0.8),
              (0.32,1.6),(0.35,2.3),(0.38,1.2),(0.41,2.0),(0.44,1.5),(0.47,2.7),(0.5,1.0),(0.53,1.8),(0.56,2.4),(0.59,1.3),
              (0.62,2.1),(0.65,1.6),(0.68,2.9),(0.71,1.4),(0.74,2.2),(0.77,1.7),(0.8,2.6),(0.83,1.2),(0.86,2.3),(0.89,1.9),
              (0.92,3.0),(0.95,1.5),(0.98,2.5),(1.01,1.8),(1.04,3.2),(1.07,2.1),(1.1,1.4),(1.13,2.8),(1.16,2.3),(1.19,3.5),
              (1.22,1.9),(1.25,2.6),(1.28,1.6),(1.31,3.0),(1.34,2.2),(1.37,2.8),(1.4,1.7),(1.43,2.5),(1.46,3.3),(1.49,2.0),
              (1.52,2.7),(1.55,1.3),(1.58,2.2),(1.61,1.8),(1.64,2.9),(1.67,1.4),(1.7,2.1),(1.73,1.6),(1.76,0.7),(1.79,1.9),
              (1.82,2.6),(1.85,3.2),(1.88,2.0),(1.91,2.9),(1.94,1.6),(1.97,2.4),(2.0,3.1),(2.03,1.8),(2.06,2.3),(2.09,1.2),
              (2.12,2.6),(2.15,1.9),(2.18,2.3),(2.21,1.5),(2.24,2.0),(2.27,1.1)]

PTS_C_CHR1 = [(0.02,1.9),(0.25,1.1),(0.3,1.3),(0.5,1.4),(0.7,1.1),(0.9,1.2),(1.4,1.7),(1.45,1.4),(1.5,1.9),(1.52,2.5),
              (1.55,2.1),(1.57,1.9),(1.6,2.6),(1.58,3.3),(1.62,2.0),(1.5,1.5),(1.8,1.4),(1.85,1.3),(2.05,1.4),(2.2,1.3),
              (2.6,1.2),(2.65,0.9),(2.7,1.5),(2.9,1.0),(3.0,1.7),(3.2,2.0)]
PTS_C_CHR2 = [(0.02,1.7),(0.22,1.3),(0.23,1.2),(0.55,1.3),(1.28,1.1),(1.45,1.6),(1.47,1.4),(1.58,2.4),(1.65,1.5),(1.7,1.2),
              (1.75,1.6),(1.85,1.8),(1.88,2.0),(1.9,3.1),(1.93,2.8),(1.95,1.8),(1.98,2.3),(2.0,1.4),(2.05,1.3),(2.1,2.0),
              (2.15,1.5),(2.2,1.1),(2.22,2.2)]
PTS_C_CHR3 = [(0.02,2.8),(0.15,1.3),(0.38,1.5),(0.4,1.4),(0.6,1.2),(0.65,1.2),(0.7,1.2),(0.72,3.2),(0.75,1.0),(0.78,2.7),
              (0.8,3.7),(0.82,2.9),(0.84,3.3),(0.86,1.8),(0.88,1.3),(0.92,1.2),(1.0,1.1),(1.1,1.1),(1.2,1.2),(1.35,1.0),
              (1.45,1.0),(1.5,1.0),(1.6,1.2),(1.78,1.6)]
PTS_C_CHR4 = [(0.0,1.9),(0.15,1.1),(0.17,1.1),(0.38,1.4),(0.42,1.0),(0.45,1.0),(0.5,1.1),(0.8,1.5),(0.85,1.1),(0.95,2.5),
              (0.97,3.2),(0.98,2.0),(1.0,2.9),(1.02,1.5),(1.05,2.1),(1.1,2.1),(1.15,1.5),(1.2,1.3),(1.3,1.4),(1.35,1.2),
              (1.45,1.3),(1.6,2.4)]
PTS_C_CHR5 = [(0.02,6.0),(0.03,5.2),(0.05,5.0),(0.06,4.5),(0.08,4.0),(0.12,2.6),(0.18,1.8),(0.2,2.0),(0.22,1.3),(0.25,2.3),
              (0.28,1.2),(0.3,2.0),(0.34,1.4),(0.36,1.4),(0.52,1.4),(0.7,1.3),(0.72,1.3),(0.92,1.0),(0.93,1.6),(1.05,1.5),
              (1.1,1.4),(1.15,1.8),(1.17,2.0),(1.13,1.3)]
PTS_C_CHR6 = [(0.18,1.6),(0.47,1.3),(0.55,1.2),(0.6,1.6),(0.63,1.3),(0.65,1.5),(0.7,1.6),(0.72,1.1),(0.74,1.4),(0.76,1.4),
              (0.8,1.3),(0.82,1.8),(0.85,1.5),(0.88,1.1),(0.9,1.9),(0.93,2.2),(0.95,2.7),(0.97,3.3),(0.99,3.2),(1.01,3.3),
              (1.0,2.7),(0.98,2.9)]
PTS_C_CHR7 = [(0.15,1.5),(0.17,1.7),(0.2,1.3),(0.22,1.2),(0.25,1.2),(0.28,1.2),(0.35,2.1),(0.37,1.6),(0.38,3.0),(0.4,3.4),
              (0.42,3.8),(0.44,2.6),(0.46,2.5),(0.48,2.0),(0.5,1.8),(0.52,1.6),(0.55,1.3),(0.58,1.1),(0.62,1.6),(0.75,1.2),
              (0.8,1.2),(0.85,1.2),(0.9,1.1)]
PTS_C_CHRR = [(0.0,1.6),(0.2,1.0),(0.25,1.0),(0.55,1.2),(0.88,1.0),(1.2,1.3),(1.38,1.5),(1.42,1.3),(1.45,1.6),(1.55,2.0),
              (1.65,2.5),(1.7,2.6),(1.72,2.2),(1.75,3.0),(1.78,2.6),(1.8,2.0),(1.85,1.7),(1.88,1.4),(1.9,2.8),(1.82,1.8)]

PTS_D_CHR1 = [(0.2,1.2),(0.4,1.2),(0.45,1.1),(0.65,1.6),(0.8,1.5),(1.1,1.2),(1.15,1.0),(1.2,1.1),(1.25,1.8),(1.28,1.6),
              (1.3,1.7),(1.32,1.9),(1.35,1.5),(1.4,1.3),(1.45,2.3),(1.5,3.3),(1.52,3.6),(1.55,2.6),(1.6,2.9),(1.65,2.0),
              (1.7,2.4),(1.75,1.0),(1.8,1.6),(2.0,0.9),(2.3,1.5),(2.5,1.3),(2.8,1.4),(2.85,1.4)]
PTS_D_CHR2 = [(0.1,1.3),(0.3,1.6),(0.5,1.2),(0.8,1.1),(1.2,1.0),(1.4,1.5),(1.5,1.2),(1.6,1.8),(1.65,1.4),(1.7,2.0),
              (1.75,2.4),(1.78,1.6),(1.8,2.8),(1.83,2.1),(1.85,3.0),(1.88,3.5),(1.9,3.7),(1.93,2.9),(1.96,2.5),(2.0,3.0),
              (2.05,1.9),(2.1,1.2),(2.15,1.0)]
PTS_D_CHR3 = [(0.02,0.9),(0.07,1.2),(0.3,1.2),(0.6,1.2),(0.62,1.0),(0.67,1.1),(0.7,1.3),(0.72,2.3),(0.75,1.9),(0.78,2.6),
              (0.8,3.3),(0.82,3.8),(0.84,2.8),(0.86,2.0),(0.88,1.4),(0.9,1.3),(0.95,1.1),(1.05,1.0),(1.15,1.2),(1.2,1.3),
              (1.45,1.4),(1.48,1.0),(1.5,1.2),(1.75,0.9)]
PTS_D_CHR4 = [(0.1,1.2),(0.3,1.3),(0.5,1.1),(0.7,1.4),(0.8,1.6),(0.85,1.2),(0.88,2.0),(0.9,2.6),(0.92,1.8),(0.95,3.2),
              (0.97,3.6),(1.0,2.9),(1.02,2.2),(1.05,2.8),(1.08,1.6),(1.1,2.0),(1.15,1.3),(1.2,1.0),(1.3,1.2),(1.5,1.3)]
PTS_D_CHR5 = [(0.02,2.5),(0.04,3.0),(0.06,3.5),(0.08,4.0),(0.1,4.5),(0.12,5.5),(0.14,6.0),(0.16,6.5),(0.18,6.8),(0.2,5.0),
              (0.22,4.5),(0.25,4.0),(0.28,3.0),(0.3,2.5),(0.32,2.2),(0.35,1.8),(0.38,1.5),(0.42,1.6),(0.45,1.8),(0.5,2.2),
              (0.55,1.5),(0.6,2.0),(0.65,1.2),(0.7,1.5),(0.72,1.0),(0.78,0.8),(0.85,1.6),(0.9,1.0),(1.0,1.3),(1.05,1.1),
              (1.15,1.8)]
PTS_D_CHR6 = [(0.5,0.8),(0.6,1.0),(0.7,0.9),(0.75,1.2),(0.8,1.5),(0.85,1.8),(0.88,2.0),(0.9,2.3),(0.92,2.8),(0.95,3.0),
              (0.97,3.5),(0.99,3.3),(1.0,2.8),(0.93,1.9)]
PTS_D_CHR7 = [(0.05,1.0),(0.07,1.1),(0.13,1.0),(0.15,1.1),(0.3,1.7),(0.32,2.0),(0.33,1.2),(0.35,2.6),(0.38,2.2),(0.4,3.9),
              (0.42,3.5),(0.45,3.1),(0.47,2.8),(0.48,2.6),(0.5,2.3),(0.52,2.0),(0.55,1.9),(0.58,1.6),(0.6,1.3),(0.65,1.2),
              (0.75,1.2),(0.8,1.1),(0.85,1.4),(0.88,1.3),(0.9,1.0)]
PTS_D_CHRR = [(0.3,1.0),(0.9,0.9),(1.5,1.2),(1.55,1.3),(1.6,1.8),(1.65,2.0),(1.7,3.5),(1.72,3.0),(1.75,2.6),(1.78,1.8),
              (1.8,1.6),(1.85,1.3),(1.95,0.8),(2.0,1.2),(2.1,1.0)]

# ---------------- assemble ----------------
XGRIDS = [X_CHR1, X_CHR2, X_CHR3, X_CHR4, X_CHR5, X_CHR6, X_CHR7, X_CHRR]
LINES = {
    "A": [LINE_A_CHR1, LINE_A_CHR2, LINE_A_CHR3, LINE_A_CHR4, LINE_A_CHR5, LINE_A_CHR6, LINE_A_CHR7, LINE_A_CHRR],
    "B": [LINE_B_CHR1, LINE_B_CHR2, LINE_B_CHR3, LINE_B_CHR4, LINE_B_CHR5, LINE_B_CHR6, LINE_B_CHR7, LINE_B_CHRR],
    "C": [LINE_C_CHR1, LINE_C_CHR2, LINE_C_CHR3, LINE_C_CHR4, LINE_C_CHR5, LINE_C_CHR6, LINE_C_CHR7, LINE_C_CHRR],
    "D": [LINE_D_CHR1, LINE_D_CHR2, LINE_D_CHR3, LINE_D_CHR4, LINE_D_CHR5, LINE_D_CHR6, LINE_D_CHR7, LINE_D_CHRR],
}
POINTS = {
    "A": [PTS_A_CHR1, PTS_A_CHR2, PTS_A_CHR3, PTS_A_CHR4, PTS_A_CHR5, PTS_A_CHR6, PTS_A_CHR7, PTS_A_CHRR],
    "B": [PTS_B_CHR1, PTS_B_CHR2, PTS_B_CHR3, PTS_B_CHR4, PTS_B_CHR5, PTS_B_CHR6, PTS_B_CHR7, PTS_B_CHRR],
    "C": [PTS_C_CHR1, PTS_C_CHR2, PTS_C_CHR3, PTS_C_CHR4, PTS_C_CHR5, PTS_C_CHR6, PTS_C_CHR7, PTS_C_CHRR],
    "D": [PTS_D_CHR1, PTS_D_CHR2, PTS_D_CHR3, PTS_D_CHR4, PTS_D_CHR5, PTS_D_CHR6, PTS_D_CHR7, PTS_D_CHRR],
}

W, H = 736, 569
COLS = {0: [(47, 180), (206, 334)], 1: [(440, 572), (600, 728)]}
ROWS = [(8, 51), (69, 113), (131, 175), (193, 237)]
ROW_SHIFT = 306
FONT = "Liberation Sans, Arial, Helvetica, sans-serif"
BLUE = "#1414e6"
RED = "#e0241f"
GREEN = "#5b9a3c"
FRAME = "#555555"

fig = go.Figure()
layout = {}
shapes = []
annotations = []

def px_x(v):
    return v / W

def px_y(v):
    return 1 - v / H

k = 0
for pi, p in enumerate(PANELS):
    col_set = COLS[0 if p in ("A", "C") else 1]
    shift = 0 if p in ("A", "B") else ROW_SHIFT
    for ci, chrom in enumerate(CHROMS):
        k += 1
        r, c = divmod(ci, 2)
        xl, xr = col_set[c]
        yt, yb = ROWS[r][0] + shift, ROWS[r][1] + shift
        xa = "x" if k == 1 else f"x{k}"
        ya = "y" if k == 1 else f"y{k}"
        ymax = CHR5_YMAX[pi] if chrom == "Chr5" else 4
        axis_common = dict(
            showgrid=False, zeroline=False, showline=True, linecolor=FRAME, linewidth=1,
            mirror="ticks", ticks="inside", ticklen=3, tickwidth=1, tickcolor=FRAME,
            tickfont=dict(family=FONT, size=9, color="#222"), automargin=False,
        )
        layout["xaxis" if k == 1 else f"xaxis{k}"] = dict(
            domain=[px_x(xl), px_x(xr)], range=[0, XMAX[ci]], dtick=XDTICK[ci], tick0=0,
            tickformat=".1f", anchor=ya, ticklabelstandoff=-3, **axis_common)
        layout["yaxis" if k == 1 else f"yaxis{k}"] = dict(
            domain=[px_y(yb), px_y(yt)], range=[0, ymax], dtick=2, tick0=0,
            anchor=xa, ticklabelstandoff=2, **axis_common)

        pts = POINTS[p][ci]
        fig.add_trace(go.Scatter(
            x=[q[0] for q in pts], y=[q[1] for q in pts], mode="markers",
            marker=dict(size=2.6, color="black"), xaxis=xa, yaxis=ya,
            showlegend=False, hoverinfo="skip"))
        fig.add_trace(go.Scatter(
            x=XGRIDS[ci], y=LINES[p][ci], mode="lines",
            line=dict(color=BLUE, width=1.4), xaxis=xa, yaxis=ya,
            showlegend=False, hoverinfo="skip", connectgaps=False))

        yref_dom = f"{ya} domain"
        shapes.append(dict(type="line", xref=xa, yref=yref_dom, x0=CENTROMERE[ci], x1=CENTROMERE[ci],
                           y0=0, y1=1, line=dict(color=RED, width=2), layer="above"))
        if chrom == "Chr5":
            for g in GREEN_CHR5:
                shapes.append(dict(type="line", xref=xa, yref=yref_dom, x0=g, x1=g, y0=0, y1=1,
                                   line=dict(color=GREEN, width=1.5), layer="above"))
            fig.add_trace(go.Scatter(
                x=[DIAMOND_X[pi]], y=[DIAMOND_Y[pi]], mode="markers",
                marker=dict(symbol="diamond", size=10, color="black"),
                xaxis=xa, yaxis=ya, showlegend=False, hoverinfo="skip", cliponaxis=False))

        annotations.append(dict(
            text=f"<b>{chrom}</b>", x=px_x((xl + xr) / 2), y=px_y(yt), xref="paper", yref="paper",
            xanchor="center", yanchor="bottom", yshift=-1, showarrow=False, borderpad=0,
            font=dict(family=FONT, size=8, color="black")))

# panel letters, axis titles
LETTER_POS = {"A": (2, 15), "B": (395, 15), "C": (2, 317), "D": (395, 317)}
for p in PANELS:
    lx, ly = LETTER_POS[p]
    annotations.append(dict(text=f"{p}.", x=px_x(lx), y=px_y(ly), xref="paper", yref="paper",
                            xanchor="left", yanchor="middle", showarrow=False,
                            font=dict(family=FONT, size=20, color="black")))

YLAB_POS = {"A": (31, 134), "B": (421, 134), "C": (31, 441), "D": (421, 441)}
XLAB_POS = {"A": (189, 255), "B": (583, 255), "C": (189, 560), "D": (583, 560)}
for p in PANELS:
    yx, yy = YLAB_POS[p]
    annotations.append(dict(text="log2(count+1)", x=px_x(yx), y=px_y(yy), xref="paper", yref="paper",
                            xanchor="center", yanchor="middle", textangle=-90, showarrow=False,
                            font=dict(family=FONT, size=12, color="black")))
    xx, xy = XLAB_POS[p]
    annotations.append(dict(text="Genomic coordinate (Mb)", x=px_x(xx), y=px_y(xy), xref="paper", yref="paper",
                            xanchor="center", yanchor="middle", showarrow=False,
                            font=dict(family=FONT, size=12, color="black")))

fig.update_layout(
    width=W, height=H, autosize=False,
    margin=dict(l=0, r=0, t=0, b=0, pad=0, autoexpand=False),
    paper_bgcolor="white", plot_bgcolor="white",
    shapes=shapes, annotations=annotations, showlegend=False,
    **layout,
)

# remove the browser's default 8px body margin so the 736x569 figure fills the window
fig.write_html("out.html", config={"displayModeBar": False, "staticPlot": True},
               post_script="document.body.style.margin='0px';document.body.style.overflow='hidden';")
